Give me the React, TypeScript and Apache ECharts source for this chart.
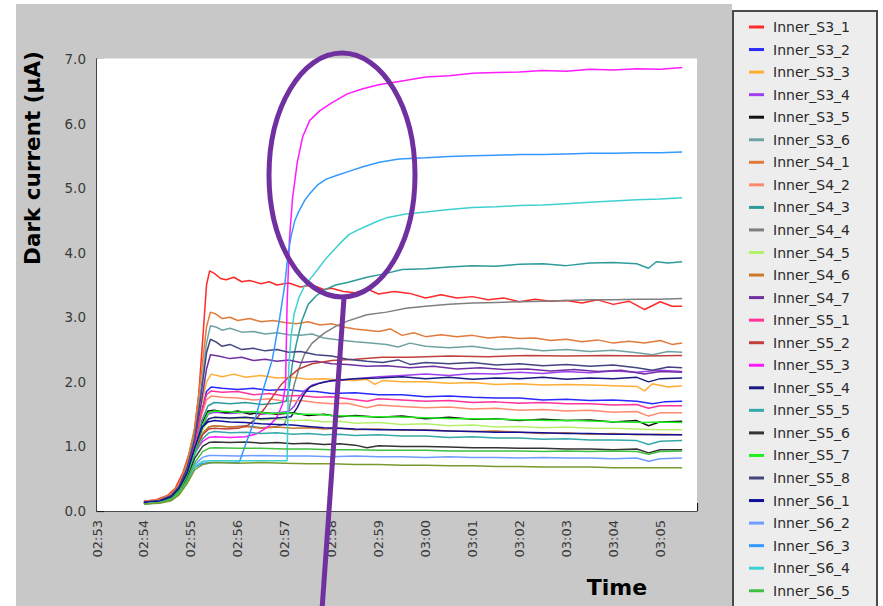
import React, { useEffect, useRef } from "react";
import * as echarts from "echarts";

// time = seconds after 02:53:00, value = dark current (µA)
const xTickSeconds = [0, 60, 120, 180, 240, 300, 360, 420, 480, 540, 600, 660, 720];
const xTickLabels = ["02:53", "02:54", "02:55", "02:56", "02:57", "02:58", "02:59", "03:00", "03:01", "03:02", "03:03", "03:04", "03:05"];
const yTicks = [0, 1, 2, 3, 4, 5, 6, 7];

const seriesNames = [
  "Inner_S3_1", "Inner_S3_2", "Inner_S3_3", "Inner_S3_4", "Inner_S3_5", "Inner_S3_6",
  "Inner_S4_1", "Inner_S4_2", "Inner_S4_3", "Inner_S4_4", "Inner_S4_5", "Inner_S4_6", "Inner_S4_7",
  "Inner_S5_1", "Inner_S5_2", "Inner_S5_3", "Inner_S5_4", "Inner_S5_5", "Inner_S5_6", "Inner_S5_7", "Inner_S5_8",
  "Inner_S6_1", "Inner_S6_2", "Inner_S6_3", "Inner_S6_4", "Inner_S6_5", "Inner_S6_6",
];
const seriesColors = [
  "#ff2a2a", "#2a2aff", "#ffad33", "#a040f0", "#111111", "#6fa3a3",
  "#e07b3c", "#ff8a6e", "#2e9a9a", "#7f7f7f", "#b5f06a", "#cc7a2a", "#7030a0",
  "#ff3399", "#c0403c", "#ff1aff", "#1a1a80", "#35a8a8", "#333333", "#22ee22", "#44447f",
  "#10109a", "#6e9cff", "#3399ff", "#3fd0d0", "#40c040", "#7a9a30",
];

const S3_1 = [[60,0.15],[75,0.17],[90,0.24],[100,0.35],[110,0.6],[118,0.9],[124,1.2],[130,1.8],[136,2.8],[140,3.5],[144,3.72],[150,3.68],[158,3.6],[165,3.58],[175,3.62],[185,3.55],[195,3.57],[210,3.52],[220,3.55],[230,3.5],[245,3.53],[260,3.47],[275,3.5],[290,3.43],[300,3.45],[315,3.4],[330,3.38],[345,3.44],[360,3.36],[380,3.4],[400,3.37],[420,3.3],[440,3.35],[460,3.3],[480,3.32],[500,3.27],[520,3.3],[540,3.24],[560,3.28],[580,3.25],[600,3.26],[620,3.22],[640,3.27],[660,3.2],[680,3.25],[700,3.12],[720,3.24],[735,3.17],[748,3.17]];
const S3_2 = [[60,0.13],[80,0.15],[95,0.22],[105,0.35],[115,0.6],[125,1.0],[133,1.5],[140,1.85],[146,1.92],[160,1.9],[180,1.88],[200,1.9],[220,1.87],[240,1.88],[260,1.86],[280,1.85],[300,1.82],[330,1.83],[360,1.8],[390,1.8],[420,1.77],[450,1.78],[480,1.76],[510,1.75],[540,1.75],[570,1.72],[600,1.73],[630,1.71],[660,1.72],[690,1.7],[710,1.66],[725,1.69],[748,1.7]];
const S3_3 = [[60,0.14],[80,0.16],[95,0.23],[105,0.38],[115,0.65],[125,1.1],[133,1.6],[140,2.0],[146,2.12],[160,2.08],[175,2.12],[190,2.07],[210,2.1],[230,2.06],[250,2.07],[270,2.04],[290,2.05],[310,2.03],[330,2.02],[345,2.04],[355,1.96],[365,2.02],[390,2.0],[420,2.0],[450,1.98],[480,1.99],[510,1.96],[540,1.97],[570,1.95],[600,1.96],[630,1.95],[660,1.94],[690,1.93],[700,1.86],[710,1.97],[730,1.92],[748,1.94]];
const S3_4 = [[60,0.12],[80,0.14],[95,0.2],[105,0.32],[115,0.55],[125,0.95],[135,1.3],[142,1.5],[150,1.53],[170,1.51],[190,1.53],[210,1.5],[230,1.52],[245,1.54],[252,1.62],[258,1.75],[265,1.86],[275,1.95],[290,2.0],[310,2.02],[330,2.05],[360,2.08],[390,2.1],[420,2.12],[450,2.1],[480,2.13],[510,2.12],[540,2.15],[570,2.13],[600,2.16],[630,2.14],[660,2.17],[690,2.15],[720,2.18],[748,2.16]];
const S3_5 = [[60,0.13],[80,0.15],[95,0.21],[105,0.34],[115,0.58],[125,0.98],[134,1.35],[142,1.55],[150,1.56],[165,1.52],[180,1.55],[195,1.5],[210,1.53],[230,1.5],[250,1.52],[270,1.48],[290,1.5],[310,1.46],[330,1.48],[360,1.45],[390,1.47],[420,1.43],[450,1.45],[480,1.42],[510,1.43],[540,1.4],[570,1.42],[600,1.4],[630,1.41],[660,1.38],[690,1.4],[705,1.32],[720,1.38],[748,1.39]];
const S3_6 = [[60,0.14],[80,0.17],[95,0.25],[105,0.4],[115,0.7],[125,1.2],[133,1.9],[140,2.6],[145,2.87],[152,2.85],[160,2.8],[170,2.83],[185,2.77],[200,2.78],[215,2.74],[230,2.76],[245,2.73],[260,2.72],[275,2.74],[290,2.68],[310,2.65],[330,2.62],[350,2.6],[370,2.58],[385,2.54],[400,2.6],[420,2.55],[450,2.53],[480,2.55],[510,2.5],[540,2.52],[570,2.48],[600,2.5],[630,2.47],[660,2.49],[690,2.45],[710,2.42],[730,2.47],[748,2.46]];
const S4_1 = [[60,0.15],[80,0.18],[95,0.27],[105,0.42],[115,0.75],[125,1.3],[133,2.1],[140,2.85],[145,3.08],[152,3.05],[160,2.98],[170,3.0],[180,2.95],[195,2.98],[210,2.93],[225,2.95],[240,2.92],[255,2.9],[270,2.93],[285,2.88],[300,2.9],[315,2.85],[330,2.82],[345,2.8],[360,2.78],[375,2.82],[390,2.72],[405,2.76],[420,2.7],[440,2.73],[460,2.7],[480,2.72],[500,2.68],[520,2.7],[540,2.67],[560,2.68],[580,2.64],[600,2.66],[620,2.62],[640,2.65],[660,2.6],[680,2.63],[700,2.6],[720,2.64],[735,2.58],[748,2.6]];
const S4_2 = [[60,0.13],[80,0.15],[95,0.22],[105,0.36],[115,0.6],[125,1.02],[133,1.45],[140,1.72],[146,1.78],[160,1.76],[180,1.75],[200,1.72],[220,1.74],[240,1.7],[260,1.71],[280,1.68],[300,1.66],[320,1.67],[345,1.6],[360,1.64],[390,1.62],[420,1.6],[450,1.61],[480,1.58],[510,1.59],[540,1.56],[570,1.57],[600,1.55],[630,1.56],[660,1.53],[690,1.54],[705,1.47],[720,1.52],[748,1.52]];
const S4_3 = [[60,0.12],[80,0.14],[95,0.2],[105,0.33],[115,0.56],[125,0.95],[134,1.4],[142,1.63],[150,1.68],[170,1.66],[190,1.68],[210,1.65],[230,1.67],[242,1.7],[246,1.95],[250,2.3],[255,2.6],[262,2.95],[270,3.2],[280,3.33],[290,3.42],[305,3.5],[320,3.54],[345,3.62],[370,3.68],[390,3.74],[420,3.75],[450,3.78],[480,3.8],[510,3.79],[540,3.82],[570,3.83],[600,3.8],[630,3.84],[660,3.85],[690,3.83],[705,3.76],[715,3.86],[730,3.84],[748,3.86]];
const S4_4 = [[60,0.13],[80,0.15],[95,0.21],[105,0.34],[115,0.57],[125,0.95],[135,1.2],[143,1.3],[150,1.32],[170,1.3],[190,1.32],[210,1.29],[230,1.31],[240,1.35],[246,1.6],[252,1.95],[258,2.2],[265,2.42],[275,2.6],[290,2.75],[305,2.86],[320,2.94],[345,3.04],[370,3.08],[395,3.14],[420,3.17],[450,3.2],[480,3.22],[510,3.23],[540,3.24],[570,3.25],[600,3.26],[630,3.27],[660,3.27],[690,3.28],[720,3.28],[748,3.29]];
const S4_5 = [[60,0.12],[80,0.14],[95,0.2],[105,0.32],[115,0.54],[125,0.9],[135,1.25],[143,1.42],[150,1.45],[170,1.43],[190,1.44],[210,1.41],[230,1.42],[250,1.4],[270,1.41],[290,1.38],[310,1.39],[330,1.36],[360,1.37],[390,1.34],[420,1.35],[450,1.32],[480,1.33],[510,1.3],[540,1.31],[570,1.29],[600,1.3],[630,1.28],[660,1.28],[690,1.27],[720,1.26],[748,1.26]];
const S4_6 = [[60,0.13],[80,0.15],[95,0.21],[105,0.33],[115,0.55],[125,0.92],[135,1.2],[143,1.3],[150,1.32],[170,1.3],[190,1.31],[210,1.28],[230,1.3],[250,1.28],[270,1.29],[290,1.27],[310,1.28],[330,1.26],[360,1.27],[390,1.25],[420,1.26],[450,1.24],[480,1.23],[510,1.24],[540,1.22],[570,1.2],[600,1.21],[630,1.19],[660,1.2],[690,1.18],[720,1.19],[748,1.18]];
const S4_7 = [[60,0.14],[80,0.16],[95,0.23],[105,0.37],[115,0.63],[125,1.08],[133,1.65],[140,2.2],[145,2.42],[155,2.4],[170,2.36],[185,2.38],[200,2.33],[215,2.35],[230,2.32],[245,2.34],[260,2.3],[280,2.32],[300,2.28],[320,2.27],[345,2.24],[370,2.25],[400,2.22],[430,2.24],[460,2.2],[490,2.22],[520,2.19],[550,2.2],[580,2.17],[610,2.19],[640,2.16],[670,2.18],[700,2.12],[720,2.16],[748,2.15]];
const S5_1 = [[60,0.13],[80,0.15],[95,0.22],[105,0.36],[115,0.6],[125,1.02],[133,1.5],[140,1.8],[146,1.86],[160,1.84],[180,1.85],[200,1.8],[220,1.82],[240,1.78],[260,1.79],[280,1.76],[300,1.77],[320,1.74],[345,1.7],[360,1.74],[390,1.72],[420,1.7],[450,1.71],[480,1.68],[510,1.69],[540,1.67],[570,1.68],[600,1.66],[630,1.66],[660,1.64],[690,1.65],[705,1.59],[720,1.63],[748,1.63]];
const S5_2 = [[60,0.13],[80,0.15],[95,0.21],[105,0.34],[115,0.56],[125,0.93],[135,1.18],[143,1.27],[150,1.28],[165,1.27],[180,1.28],[192,1.32],[205,1.45],[215,1.6],[225,1.78],[235,1.95],[245,2.07],[258,2.2],[275,2.28],[300,2.33],[330,2.35],[365,2.38],[400,2.38],[450,2.4],[500,2.39],[550,2.41],[600,2.4],[650,2.41],[700,2.4],[748,2.41]];
const S5_3 = [[60,0.13],[80,0.15],[95,0.21],[105,0.33],[115,0.55],[125,0.9],[135,1.08],[143,1.14],[150,1.15],[170,1.14],[190,1.15],[205,1.2],[220,1.32],[230,1.45],[237,1.65],[241,1.95],[243,3.2],[246,4.2],[250,4.85],[256,5.4],[263,5.8],[272,6.05],[285,6.2],[300,6.32],[320,6.46],[340,6.54],[360,6.6],[390,6.66],[420,6.72],[450,6.74],[480,6.78],[510,6.79],[540,6.8],[570,6.82],[600,6.81],[630,6.84],[660,6.83],[690,6.85],[720,6.84],[748,6.87]];
const S5_4 = [[60,0.13],[80,0.15],[95,0.21],[105,0.34],[115,0.57],[125,0.95],[135,1.3],[143,1.43],[150,1.45],[170,1.44],[190,1.45],[210,1.43],[230,1.44],[248,1.46],[256,1.6],[264,1.8],[272,1.92],[285,1.98],[300,2.02],[330,2.05],[360,2.06],[390,2.08],[420,2.05],[450,2.07],[480,2.04],[510,2.06],[540,2.05],[570,2.07],[600,2.04],[630,2.06],[660,2.05],[690,2.07],[705,2.0],[720,2.05],[748,2.06]];
const S5_5 = [[60,0.12],[80,0.14],[95,0.2],[105,0.32],[115,0.54],[125,0.88],[135,1.12],[143,1.21],[150,1.23],[170,1.21],[190,1.22],[210,1.2],[230,1.21],[250,1.19],[270,1.2],[290,1.18],[310,1.19],[330,1.17],[360,1.18],[390,1.16],[420,1.16],[450,1.14],[480,1.15],[510,1.13],[540,1.13],[570,1.11],[600,1.12],[630,1.1],[660,1.1],[690,1.09],[705,1.03],[720,1.08],[748,1.09]];
const S5_6 = [[60,0.12],[80,0.14],[95,0.19],[105,0.3],[115,0.5],[125,0.82],[135,1.0],[143,1.06],[150,1.07],[170,1.06],[190,1.07],[210,1.05],[230,1.06],[250,1.04],[270,1.05],[290,1.03],[310,1.04],[330,1.02],[345,0.98],[360,1.01],[390,1.0],[420,1.0],[450,0.99],[480,0.98],[510,0.98],[540,0.97],[570,0.97],[600,0.96],[630,0.96],[660,0.95],[690,0.96],[705,0.9],[720,0.95],[748,0.95]];
const S5_7 = [[60,0.12],[80,0.14],[95,0.2],[105,0.32],[115,0.55],[125,0.93],[134,1.3],[142,1.52],[150,1.55],[165,1.54],[180,1.53],[200,1.54],[220,1.51],[240,1.52],[260,1.5],[280,1.5],[300,1.48],[320,1.47],[345,1.46],[370,1.46],[400,1.45],[430,1.44],[460,1.43],[490,1.43],[520,1.42],[550,1.41],[580,1.4],[610,1.4],[640,1.39],[670,1.38],[700,1.37],[720,1.38],[748,1.37]];
const S5_8 = [[60,0.14],[80,0.16],[95,0.24],[105,0.38],[115,0.66],[125,1.12],[133,1.8],[140,2.45],[145,2.66],[152,2.62],[160,2.55],[170,2.58],[185,2.5],[200,2.52],[215,2.48],[230,2.5],[245,2.46],[260,2.47],[280,2.42],[300,2.4],[320,2.35],[345,2.32],[365,2.3],[385,2.34],[400,2.27],[420,2.3],[450,2.28],[480,2.3],[510,2.26],[540,2.28],[570,2.25],[600,2.27],[630,2.24],[660,2.26],[690,2.22],[710,2.18],[730,2.23],[748,2.22]];
const S6_1 = [[60,0.13],[80,0.15],[95,0.22],[105,0.35],[115,0.58],[125,0.98],[134,1.3],[142,1.38],[150,1.4],[170,1.38],[190,1.37],[210,1.35],[230,1.34],[250,1.33],[270,1.31],[290,1.29],[310,1.28],[330,1.27],[360,1.26],[390,1.26],[420,1.25],[450,1.24],[480,1.23],[510,1.22],[540,1.22],[570,1.21],[600,1.2],[630,1.2],[660,1.19],[690,1.19],[720,1.18],[748,1.18]];
const S6_2 = [[60,0.11],[80,0.13],[95,0.18],[105,0.28],[115,0.47],[125,0.72],[135,0.83],[143,0.86],[150,0.86],[180,0.85],[210,0.86],[240,0.85],[270,0.85],[300,0.84],[330,0.85],[360,0.84],[390,0.84],[420,0.83],[450,0.84],[480,0.83],[510,0.83],[540,0.82],[570,0.83],[600,0.82],[630,0.82],[660,0.81],[690,0.82],[705,0.77],[720,0.81],[748,0.82]];
const S6_3 = [[60,0.11],[80,0.13],[95,0.17],[105,0.27],[115,0.45],[125,0.68],[135,0.74],[145,0.75],[160,0.75],[175,0.75],[182,0.76],[192,1.1],[203,1.46],[213,1.9],[224,2.34],[233,2.95],[240,3.5],[244,3.95],[248,4.25],[253,4.5],[258,4.64],[265,4.8],[271,4.9],[282,5.05],[293,5.14],[307,5.2],[322,5.26],[340,5.33],[361,5.4],[386,5.45],[420,5.47],[450,5.49],[480,5.5],[510,5.51],[540,5.52],[570,5.52],[600,5.53],[630,5.54],[660,5.54],[690,5.55],[720,5.55],[748,5.56]];
const S6_4 = [[60,0.11],[80,0.13],[95,0.17],[105,0.27],[115,0.46],[125,0.7],[135,0.77],[145,0.78],[170,0.78],[200,0.78],[230,0.78],[243,0.78],[245,2.2],[248,2.7],[252,3.05],[258,3.3],[265,3.48],[275,3.63],[284,3.77],[292,3.9],[301,4.02],[312,4.16],[322,4.28],[333,4.35],[344,4.41],[357,4.48],[370,4.54],[395,4.6],[420,4.63],[450,4.67],[480,4.7],[510,4.71],[540,4.73],[570,4.74],[600,4.76],[630,4.78],[660,4.8],[690,4.82],[720,4.83],[748,4.85]];
const S6_5 = [[60,0.11],[80,0.13],[95,0.18],[105,0.28],[115,0.47],[125,0.75],[135,0.92],[143,0.97],[150,0.98],[180,0.97],[210,0.97],[240,0.96],[270,0.96],[300,0.95],[330,0.95],[360,0.94],[390,0.94],[420,0.94],[450,0.93],[480,0.93],[510,0.93],[540,0.93],[570,0.92],[600,0.93],[630,0.92],[660,0.93],[690,0.92],[705,0.88],[720,0.92],[748,0.93]];
const S6_6 = [[60,0.11],[80,0.12],[95,0.16],[105,0.25],[115,0.42],[125,0.64],[135,0.72],[143,0.74],[150,0.75],[180,0.74],[210,0.75],[240,0.74],[270,0.73],[300,0.73],[330,0.72],[360,0.72],[390,0.71],[420,0.71],[450,0.7],[480,0.7],[510,0.69],[540,0.69],[570,0.68],[600,0.68],[630,0.68],[660,0.67],[690,0.67],[720,0.67],[748,0.67]];

const seriesData = [
  S3_1, S3_2, S3_3, S3_4, S3_5, S3_6,
  S4_1, S4_2, S4_3, S4_4, S4_5, S4_6, S4_7,
  S5_1, S5_2, S5_3, S5_4, S5_5, S5_6, S5_7, S5_8,
  S6_1, S6_2, S6_3, S6_4, S6_5, S6_6,
];
const legendNames = seriesNames.slice(0, 26);

const FONT = "DejaVu Sans";

export default function App() {
  const ref = useRef<HTMLDivElement>(null);
  useEffect(() => {
    if (!ref.current) return;
    const chart = echarts.init(ref.current, undefined, { renderer: "svg" });
    const series = seriesNames.map((name, i) => ({
      name,
      type: "line",
      data: seriesData[i],
      showSymbol: false,
      symbol: "none",
      lineStyle: { width: 1.5, color: seriesColors[i] },
      itemStyle: { color: seriesColors[i] },
      z: 3,
    }));
    chart.setOption({
      animation: false,
      backgroundColor: "#ffffff",
      grid: {
        left: 97,
        top: 59,
        right: 883 - 697,
        bottom: 606 - 511,
        show: true,
        backgroundColor: "#ffffff",
        borderWidth: 0,
        z: 1,
      },
      xAxis: {
        type: "value",
        min: 0,
        max: 767,
        interval: 60,
        axisLine: { show: true, onZero: false, lineStyle: { color: "#1a1a1a", width: 1.5 } },
        axisTick: { show: true, inside: true, length: 8, lineStyle: { color: "#1a1a1a", width: 1.2 } },
        minorTick: { show: true, splitNumber: 4, length: 5, lineStyle: { color: "#1a1a1a", width: 1.2 } },
        splitLine: { show: false },
        axisLabel: {
          rotate: 90,
          margin: 9,
          color: "#3a3a3a",
          fontFamily: FONT,
          fontSize: 13,
          showMaxLabel: false,
          formatter: (v: number) => {
            const idx = xTickSeconds.indexOf(v);
            return idx >= 0 ? xTickLabels[idx] : "";
          },
        },
      },
      yAxis: {
        type: "value",
        min: yTicks[0],
        max: yTicks[yTicks.length - 1],
        interval: 1,
        axisLine: { show: true, onZero: false, lineStyle: { color: "#1a1a1a", width: 1.5 } },
        axisTick: { show: true, inside: true, length: 7, lineStyle: { color: "#1a1a1a", width: 1.2 } },
        minorTick: { show: true, splitNumber: 2, length: 6, lineStyle: { color: "#1a1a1a", width: 1.2 } },
        splitLine: { show: true, lineStyle: { color: "#e4e4e4", width: 2 } },
        axisLabel: {
          margin: 11,
          color: "#3a3a3a",
          fontFamily: FONT,
          fontSize: 13.5,
          formatter: (v: number) => v.toFixed(1),
        },
      },
      legend: {
        data: legendNames,
        orient: "vertical",
        left: 744,
        top: 14,
        height: 900,
        icon: "rect",
        itemWidth: 15,
        itemHeight: 3,
        itemGap: 6.55,
        z: 10,
        selectedMode: false,
        textStyle: {
          fontFamily: FONT,
          fontSize: 14,
          lineHeight: 16,
          color: "#2a2a2a",
          padding: [0, 0, 0, 4],
        },
      },
      graphic: [
        {
          type: "rect",
          shape: { x: 16, y: 4, width: 716, height: 610 },
          style: { fill: "#c8c8c8" },
          z: -10,
          silent: true,
        },
        {
          type: "rect",
          shape: { x: 733, y: 11, width: 144, height: 620 },
          style: { fill: "#ededed", stroke: "#4a4a4a", lineWidth: 2 },
          z: 5,
          silent: true,
        },
        {
          type: "text",
          x: 32,
          y: 158,
          rotation: Math.PI / 2,
          style: {
            text: "Dark current (µA)",
            font: `bold 21.5px ${FONT}`,
            fill: "#000000",
            align: "center",
            verticalAlign: "middle",
          },
          z: 10,
        },
        {
          type: "text",
          x: 617,
          y: 587,
          style: {
            text: "Time",
            font: `bold 22px ${FONT}`,
            fill: "#000000",
            align: "center",
            verticalAlign: "middle",
          },
          z: 10,
        },
        {
          type: "ellipse",
          shape: { cx: 342, cy: 175, rx: 73, ry: 122 },
          style: { fill: "none", stroke: "#7030a0", lineWidth: 5 },
          z: 20,
          silent: true,
        },
        {
          type: "line",
          shape: { x1: 344, y1: 298, x2: 322, y2: 610 },
          style: { stroke: "#7030a0", lineWidth: 5 },
          z: 20,
          silent: true,
        },
      ],
      series,
    });
    return () => chart.dispose();
  }, []);
  return (
    <div
      ref={ref}
      style={{ position: "fixed", left: 0, top: 0, width: 883, height: 606 }}
    />
  );
}
